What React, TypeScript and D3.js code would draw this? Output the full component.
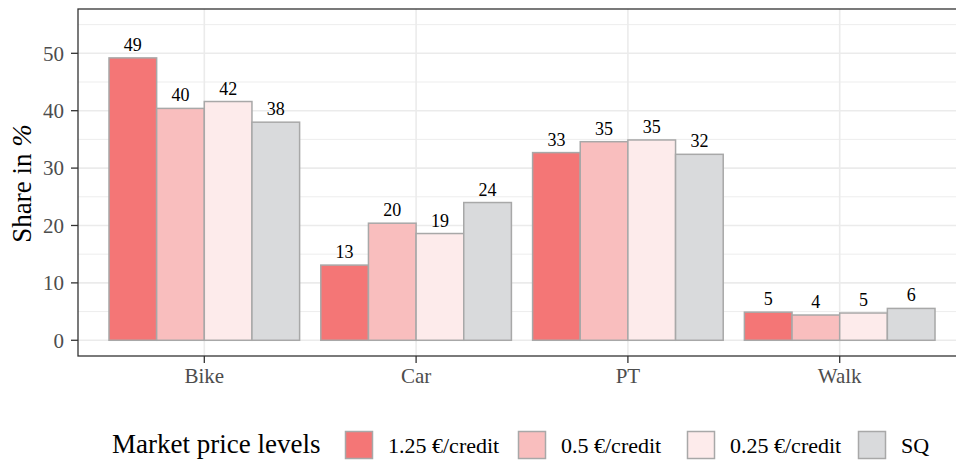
import React, { useRef, useEffect } from 'react'
import * as d3 from 'd3'

// modes on the x axis
const categories = ['Bike', 'Car', 'PT', 'Walk']

// market price levels (legend order)
const levels = ['1.25 €/credit', '0.5 €/credit', '0.25 €/credit', 'SQ']
const levelColors = ['#F47676', '#F9BEBE', '#FDEBEB', '#D9DADC']

// share in % per mode, one array per level
const price125 = [49.2, 13.1, 32.7, 4.9]
const price05 = [40.4, 20.4, 34.6, 4.4]
const price025 = [41.6, 18.6, 34.9, 4.75]
const statusQuo = [38.0, 24.0, 32.4, 5.55]

const yTicks = [0, 10, 20, 30, 40, 50]
const yMinorTicks = [5, 15, 25, 35, 45, 55]

const FONT = '"Liberation Serif", "Times New Roman", serif'

const App: React.FC = () => {
  const svgRef = useRef<SVGSVGElement | null>(null)
  const width = 956
  const height = 464

  useEffect(() => {
    if (!svgRef.current) return
    const svg = d3.select(svgRef.current)
    svg.selectAll('*').remove()

    const series = [price125, price05, price025, statusQuo]
    const rows = categories.flatMap((c, i) =>
      levels.map((l, j) => ({ cat: c, level: l, value: series[j][i], color: levelColors[j] }))
    )

    // panel bounds (right side runs past the picture edge)
    const left = 78
    const right = 966
    const top = 9
    const bottom = 356

    const y = d3.scaleLinear().domain([-2.74, 57.72]).range([bottom, top])
    const x = d3.scalePoint<string>().domain(categories).range([204.3, 839.7])
    const step = x.step()
    const dodge = d3.scaleBand<string>().domain(levels).range([-0.45 * step, 0.45 * step])

    // panel background
    svg.append('rect')
      .attr('x', left).attr('y', top)
      .attr('width', right - left).attr('height', bottom - top)
      .attr('fill', '#fff')

    // grid
    svg.append('g').selectAll('line').data(yMinorTicks).join('line')
      .attr('x1', left).attr('x2', right)
      .attr('y1', d => y(d)).attr('y2', d => y(d))
      .attr('stroke', '#EBEBEB').attr('stroke-width', 0.9)
    svg.append('g').selectAll('line').data(yTicks).join('line')
      .attr('x1', left).attr('x2', right)
      .attr('y1', d => y(d)).attr('y2', d => y(d))
      .attr('stroke', '#EBEBEB').attr('stroke-width', 1.6)
    svg.append('g').selectAll('line').data(categories).join('line')
      .attr('x1', d => x(d)!).attr('x2', d => x(d)!)
      .attr('y1', top).attr('y2', bottom)
      .attr('stroke', '#EBEBEB').attr('stroke-width', 1.6)

    // bars
    svg.append('g').selectAll('rect').data(rows).join('rect')
      .attr('x', d => x(d.cat)! + dodge(d.level)!)
      .attr('width', dodge.bandwidth())
      .attr('y', d => y(d.value))
      .attr('height', d => y(0) - y(d.value))
      .attr('fill', d => d.color)
      .attr('stroke', '#A8A8A8')
      .attr('stroke-width', 1.5)

    // value labels
    svg.append('g').selectAll('text').data(rows).join('text')
      .attr('x', d => x(d.cat)! + dodge(d.level)! + dodge.bandwidth() / 2)
      .attr('y', d => y(d.value) - 7)
      .attr('text-anchor', 'middle')
      .style('font-family', FONT)
      .style('font-size', '18px')
      .attr('fill', '#000')
      .text(d => Math.round(d.value))

    // panel border
    svg.append('rect')
      .attr('x', left).attr('y', top)
      .attr('width', right - left).attr('height', bottom - top)
      .attr('fill', 'none')
      .attr('stroke', '#333').attr('stroke-width', 1.3)

    // y axis
    const yAxis = svg.append('g')
    yAxis.selectAll('line').data(yTicks).join('line')
      .attr('x1', left - 7).attr('x2', left)
      .attr('y1', d => y(d)).attr('y2', d => y(d))
      .attr('stroke', '#333').attr('stroke-width', 1.3)
    yAxis.selectAll('text').data(yTicks).join('text')
      .attr('x', left - 14)
      .attr('y', d => y(d))
      .attr('dy', '0.35em')
      .attr('text-anchor', 'end')
      .style('font-family', FONT)
      .style('font-size', '21px')
      .attr('fill', '#4D4D4D')
      .text(d => d)

    // x axis
    const xAxis = svg.append('g')
    xAxis.selectAll('line').data(categories).join('line')
      .attr('x1', d => x(d)!).attr('x2', d => x(d)!)
      .attr('y1', bottom).attr('y2', bottom + 7)
      .attr('stroke', '#333').attr('stroke-width', 1.3)
    xAxis.selectAll('text').data(categories).join('text')
      .attr('x', d => x(d)!)
      .attr('y', bottom + 27)
      .attr('text-anchor', 'middle')
      .style('font-family', FONT)
      .style('font-size', '21px')
      .attr('fill', '#4D4D4D')
      .text(d => d)

    // y axis title
    const yTitle = svg.append('text')
      .attr('transform', `translate(31,${(top + bottom) / 2 + 1}) rotate(-90)`)
      .attr('text-anchor', 'middle')
      .style('font-family', FONT)
      .style('font-size', '27px')
      .attr('fill', '#000')
    yTitle.append('tspan').text('Share in ')
    yTitle.append('tspan').style('font-style', 'italic').text('%')

    // legend
    const legendY = 453
    svg.append('text')
      .attr('x', 112).attr('y', legendY)
      .style('font-family', FONT)
      .style('font-size', '27px')
      .attr('fill', '#000')
      .text('Market price levels')

    const keyX = [345, 518, 687, 858]
    const legend = svg.append('g').selectAll('g').data(levels).join('g')
      .attr('transform', (_, i) => `translate(${keyX[i]},431)`)
    legend.append('rect')
      .attr('x', 0.5).attr('y', 0.5)
      .attr('width', 27).attr('height', 27)
      .attr('fill', (_, i) => levelColors[i])
      .attr('stroke', '#A8A8A8')
      .attr('stroke-width', 1.5)
    legend.append('text')
      .attr('x', 43)
      .attr('y', legendY - 431)
      .style('font-family', FONT)
      .style('font-size', '22px')
      .attr('fill', '#000')
      .text(d => d)
  }, [])

  return (
    <svg
      ref={svgRef}
      width={width}
      height={height}
      style={{ position: 'absolute', left: 0, top: 0, background: '#fff' }}
    />
  )
}

export default App
